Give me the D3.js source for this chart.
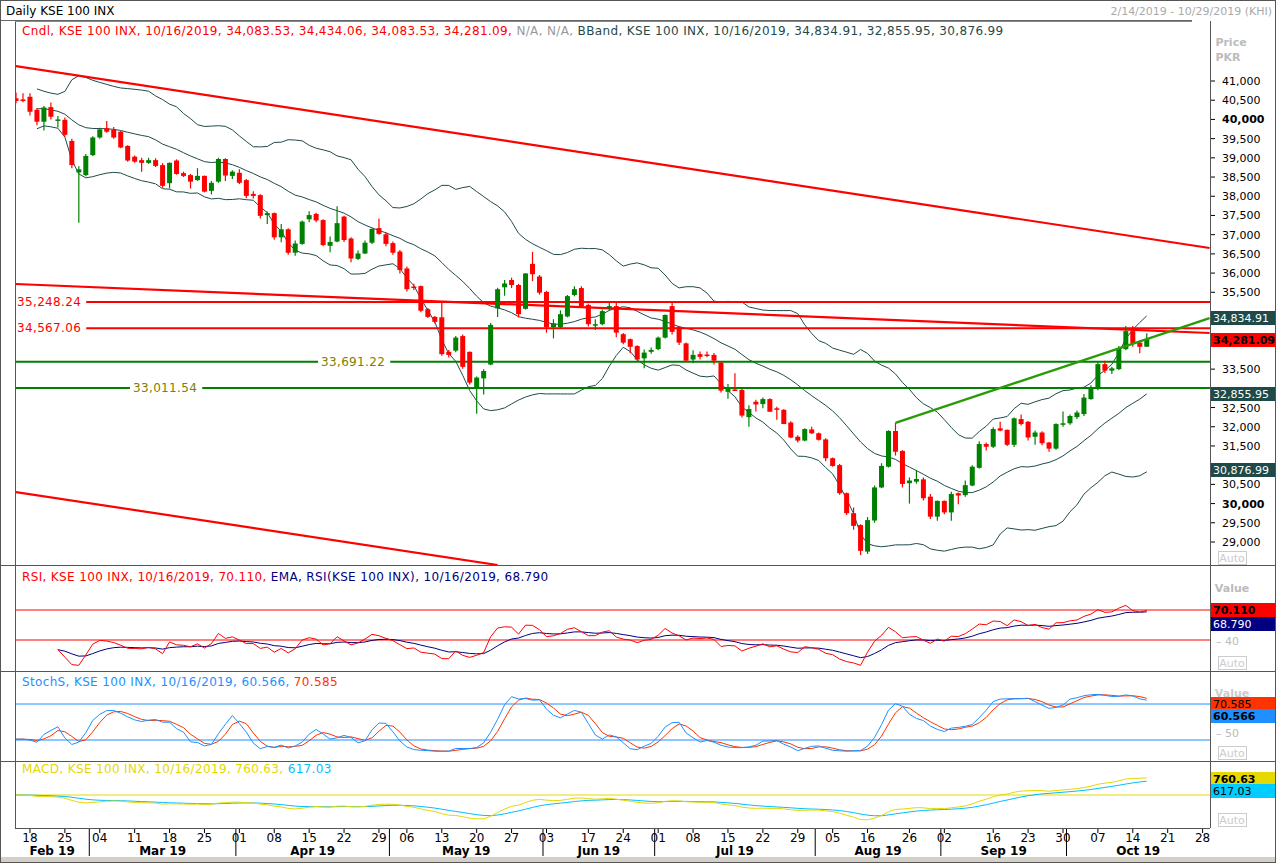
<!DOCTYPE html>
<html><head><meta charset="utf-8">
<script src="https://cdn.jsdelivr.net/npm/d3@7"></script>
<style>
body{margin:0;background:#fff;}
text{font-family:"DejaVu Sans",Verdana,sans-serif;}
.lg{font-size:12px;letter-spacing:0.35px;}
</style></head>
<body><svg id="c" width="1276" height="863"></svg>
<script>
// daily candles, [open, high, low, close], first one is 2/14/2019
var candles = [
[40550,40700,40420,40480],[40520,40680,40450,40480],[40590,40680,40100,40200],[40250,40300,39850,39940],
[39940,40350,39710,40310],[40320,40440,40000,40070],[40000,40090,39790,40000],[39990,40050,39550,39600],
[39440,39500,38730,38810],[38620,38780,37310,38700],[38550,39100,38520,39050],[39070,39560,39050,39530],
[39530,39780,39500,39740],[39770,39960,39650,39680],[39730,39800,39500,39530],[39680,39700,39250,39270],
[39310,39330,38900,38930],[39030,39060,38870,38900],[38940,39000,38640,38870],[38870,39000,38840,38940],
[38940,38990,38760,38790],[38810,38860,38220,38270],[38340,38880,38200,38870],[38930,38960,38560,38580],
[38600,38640,38500,38530],[38550,38580,38200,38380],[38420,38730,38400,38530],[38530,38540,38100,38120],
[38140,38400,38050,38350],[38380,39000,38350,38970],[38970,38990,38400,38540],[38530,38680,38450,38640],
[38610,38700,38320,38350],[38420,38450,37950,38010],[38060,38130,37940,38010],[38030,38050,37420,37490],
[37510,37600,37280,37560],[37560,37580,36870,36930],[36930,37280,36800,37140],[37140,37170,36480,36530],
[36530,36850,36450,36770],[36760,37370,36740,37340],[37400,37610,37320,37510],[37540,37570,37320,37370],
[37380,37400,36700,36730],[36710,36950,36540,36810],[36820,37740,36800,37300],[37470,37490,36810,36860],
[36900,36930,36280,36380],[36370,36590,36340,36510],[36510,36850,36500,36790],[36790,37160,36760,37150],
[37170,37420,37000,37020],[37010,37060,36700,36760],[36780,36820,36480,36530],[36560,36600,35990,36080],
[36120,36170,35520,35580],[35650,35720,35560,35620],[35660,35680,34980,35020],[35060,35090,34830,34860],
[34860,34880,34690,34730],[34850,35260,33850,33890],[33950,34000,33800,33870],[33980,34360,33940,34320],
[34360,34400,33510,33560],[33950,33960,33100,33150],[33030,33310,32340,33280],[33260,33500,32840,33450],
[33620,34700,33600,34650],[35080,35620,34860,35580],[35630,35820,35410,35730],[35820,35880,35610,35690],
[35690,35720,34850,34930],[35070,36000,35050,35990],[36240,36550,35790,35970],[35910,35950,35440,35490],
[35510,35540,34450,34590],[34590,34800,34300,34690],[34590,35030,34570,34930],[34870,35430,34850,35400],
[35430,35660,35400,35580],[35610,35660,35090,35140],[35170,35200,34610,34670],[34660,34800,34520,34670],
[34670,35050,34640,35010],[35080,35230,35020,35140],[35140,35220,34330,34450],[34410,34440,34150,34190],
[34280,34300,33910,34080],[34100,34120,33720,33750],[33780,34010,33520,33930],[33950,34060,33900,34000],
[34020,34350,33990,34320],[34320,34920,34300,34910],[35140,35230,34400,34470],[34600,34620,34130,34190],
[34170,34190,33720,33720],[33750,33990,33650,33870],[33890,33960,33750,33820],[33880,33960,33810,33860],
[33870,33920,33620,33720],[33670,33690,32890,32940],[32910,33110,32730,33000],[32970,33390,32930,32960],
[32960,32980,32240,32290],[32250,32560,32000,32460],[32650,32700,32400,32580],[32590,32760,32480,32720],
[32720,32740,32390,32390],[32480,32520,32180,32450],[32440,32460,32070,32070],[32110,32140,31700,31720],
[31740,31780,31590,31640],[31640,31960,31620,31940],[31930,32000,31810,31830],[31830,31850,31640,31660],
[31670,31700,31100,31180],[31180,31200,30960,30980],[31000,31030,30230,30270],[30270,30290,29700,29750],
[29750,29900,29320,29420],[29440,29460,28660,28770],[28750,29650,28690,29570],[29560,30470,29500,30420],
[30420,31050,30400,30980],[30960,31910,30940,31890],[31890,32100,31250,31350],[31370,31390,30420,30510],
[30530,30680,30000,30600],[30570,30870,30520,30640],[30630,30680,30080,30140],[30180,30250,29600,29660],
[29660,30080,29550,30070],[30070,30080,29720,29770],[29770,30310,29550,30250],[30270,30290,29980,30210],
[30220,30600,30180,30480],[30470,31000,30450,30960],[30930,31620,30910,31550],[31550,31590,31380,31480],
[31480,31990,31450,31940],[31960,32130,31880,31900],[31920,31930,31500,31530],[31530,32240,31470,32220],
[32200,32320,32030,32070],[32130,32150,31640,31720],[31740,31900,31530,31850],[31850,31880,31520,31570],
[31590,31600,31350,31430],[31430,32090,31400,32070],[32060,32400,32000,32090],[32090,32320,32050,32280],
[32250,32420,32200,32370],[32330,32850,32280,32760],[32720,33080,32700,33030],[33010,33700,32950,33630],
[33630,33720,33400,33460],[33460,33560,33370,33520],[33500,34100,33480,34040],[34020,34620,33990,34490],
[34490,34620,34080,34170],[34190,34240,33910,34080],[34083.53,34434.06,34083.53,34281.09]
];

// exchange holidays inside the range (weekdays with no session)
var holidays = ["2019-05-01","2019-06-04","2019-06-05","2019-06-06","2019-06-07",
  "2019-08-12","2019-08-13","2019-08-14","2019-08-15","2019-09-06","2019-09-09","2019-09-10"];
var tickDates = ["2019-02-18","2019-02-25","2019-03-04","2019-03-11","2019-03-18","2019-03-25","2019-04-01",
  "2019-04-08","2019-04-15","2019-04-22","2019-04-29","2019-05-06","2019-05-13","2019-05-20","2019-05-27",
  "2019-06-03","2019-06-17","2019-06-24","2019-07-01","2019-07-08","2019-07-15","2019-07-22","2019-07-29",
  "2019-08-05","2019-08-16","2019-08-26","2019-09-02","2019-09-16","2019-09-23","2019-09-30","2019-10-07",
  "2019-10-14","2019-10-21","2019-10-28"];
var monthNames = ["Feb 19","Mar 19","Apr 19","May 19","Jun 19","Jul 19","Aug 19","Sep 19","Oct 19"];

// manually drawn studies: [index, price]
var upperChannel = [[-0.1,41390],[171,36653]];
var midChannel = [[-0.1,35716],[171,34440]];
var lowerChannel = [[-0.1,30302],[69,28401]];
var greenTrend = [[126,32098],[171,34830]];
var redLevels = [35248.24, 34567.06];
var greenLevels = [33691.22, 33011.54];
var priceTicks = d3.range(29000, 41001, 500);

// ---- trading calendar
var fmt = d3.timeFormat("%Y-%m-%d");
var days = d3.timeDay.range(new Date(2019,1,14), new Date(2019,10,1))
  .filter(function(d){ return d.getDay()>0 && d.getDay()<6 && holidays.indexOf(fmt(d))<0; });
var dayIndex = {};
days.forEach(function(d,i){ dayIndex[fmt(d)] = i; });

var svg = d3.select("#c");
var L = 15, R = 1210, step = 6.98;
var x = d3.scaleLinear().domain([0, 1]).range([16, 16+step]);

var panels = {
  main: {top:21, bottom:565},
  rsi: {top:567, bottom:670},
  sto: {top:672, bottom:760},
  macd: {top:762, bottom:828}
};

// frame
svg.append("rect").attr("x",0).attr("y",0).attr("width",1276).attr("height",863).attr("fill","#fff");
svg.append("rect").attr("x",0.5).attr("y",0.5).attr("width",1275).attr("height",862).attr("fill","none").attr("stroke","#555");
svg.append("rect").attr("x",1).attr("y",857).attr("width",1274).attr("height",5).attr("fill","#d4d0c8");
svg.append("text").attr("x",6).attr("y",15).attr("font-size",12).attr("fill","#000").text("Daily KSE 100 INX");
svg.append("text").attr("x",1272).attr("y",15).attr("font-size",11).attr("fill","#aaa").attr("text-anchor","end")
  .text("2/14/2019 - 10/29/2019 (KHI)");
svg.append("line").attr("x1",1).attr("x2",1192).attr("y1",20.5).attr("y2",20.5).attr("stroke","#666");
svg.append("line").attr("x1",L+0.5).attr("x2",L+0.5).attr("y1",21).attr("y2",828).attr("stroke","#555");
svg.append("line").attr("x1",R+0.5).attr("x2",R+0.5).attr("y1",21).attr("y2",828).attr("stroke","#555");
[565.5,671.5,761.5].forEach(function(yy){
  svg.append("line").attr("x1",1).attr("x2",1275).attr("y1",yy).attr("y2",yy).attr("stroke","#555");
});
svg.append("line").attr("x1",L).attr("x2",R).attr("y1",828.5).attr("y2",828.5).attr("stroke","#555");

Object.keys(panels).forEach(function(k){
  svg.append("clipPath").attr("id","clip-"+k).append("rect")
    .attr("x",L+1).attr("y",panels[k].top).attr("width",R-L-1).attr("height",panels[k].bottom-panels[k].top);
});

// ---- main panel
var y = d3.scaleLinear().domain([29000,41000]).range([542,81]);
var gm = svg.append("g").attr("clip-path","url(#clip-main)");
var closes = candles.map(function(c){ return c[3]; });

// bollinger 20,2
var bb = closes.map(function(c,i){
  var w = closes.slice(Math.max(0,i-19), i+1), m = d3.mean(w), s = d3.deviation(w) || 0;
  return {i:i, m:m, u:m+2*s, l:m-2*s};
});
["u","m","l"].forEach(function(k){
  gm.append("path").datum(bb.slice(3)).attr("fill","none").attr("stroke","#1f4a4a").attr("stroke-width",1)
    .attr("d", d3.line().x(function(d){return x(d.i);}).y(function(d){return y(d[k]);}));
});

function seg(p, col, w){
  gm.append("line").attr("x1",x(p[0][0])).attr("y1",y(p[0][1])).attr("x2",x(p[1][0])).attr("y2",y(p[1][1]))
    .attr("stroke",col).attr("stroke-width",w);
}
seg(upperChannel,"#ff0000",2.2); seg(midChannel,"#ff0000",2.2); seg(lowerChannel,"#ff0000",2.2);

redLevels.forEach(function(v){
  gm.append("line").attr("x1",L).attr("x2",R).attr("y1",y(v)).attr("y2",y(v)).attr("stroke","#ff0000").attr("stroke-width",2);
});
greenLevels.forEach(function(v){
  gm.append("line").attr("x1",L).attr("x2",R).attr("y1",y(v)).attr("y2",y(v)).attr("stroke","#008000").attr("stroke-width",2);
});
var fmtP = d3.format(",.2f");
[[redLevels[0],16,"#ff0000"],[redLevels[1],16,"#ff0000"],[greenLevels[0],320,"#808000"],[greenLevels[1],132,"#808000"]]
.forEach(function(a){
  var t = gm.append("text").attr("class","lg").attr("x",a[1]+1).attr("y",y(a[0])+4).attr("fill",a[2]).text(fmtP(a[0]));
  var bw = t.node().getComputedTextLength();
  gm.insert("rect","text").attr("x",a[1]-2).attr("y",y(a[0])-6).attr("width",bw+8).attr("height",12).attr("fill","#fff");
});

var cw = 5;
var cg = gm.selectAll("g.c").data(candles).enter().append("g");
cg.append("line").attr("x1",function(d,i){return x(i);}).attr("x2",function(d,i){return x(i);})
  .attr("y1",function(d){return y(d[1]);}).attr("y2",function(d){return y(d[2]);})
  .attr("stroke",function(d){return d[3]>=d[0]?"#008000":"#ff0000";}).attr("stroke-width",1.2);
cg.append("rect").attr("x",function(d,i){return x(i)-cw/2;}).attr("width",cw)
  .attr("y",function(d){return y(Math.max(d[0],d[3]));})
  .attr("height",function(d){return Math.max(1.5, Math.abs(y(d[0])-y(d[3])));})
  .attr("fill",function(d){return d[3]>=d[0]?"#008000":"#ff0000";});
seg(greenTrend,"#2a9a0a",2.4);

// legend
var lg = svg.append("text").attr("class","lg").attr("x",22).attr("y",35);
lg.append("tspan").attr("fill","#ff0000").text("Cndl, KSE 100 INX, 10/16/2019, 34,083.53, 34,434.06, 34,083.53, 34,281.09, ");
lg.append("tspan").attr("fill","#999").text("N/A, N/A, ");
lg.append("tspan").attr("fill","#1f4a4a").text("BBand, KSE 100 INX, 10/16/2019, 34,834.91, 32,855.95, 30,876.99");
svg.append("line").attr("x1",L).attr("x2",1192).attr("y1",21.5).attr("y2",21.5).attr("stroke","#888");

// price axis
var boxYs = [318,340,394,470];
var ya = svg.append("g");
priceTicks.forEach(function(v){
  if (boxYs.some(function(b){ return Math.abs(b-y(v))<12; })) return;
  ya.append("line").attr("x1",R+1).attr("x2",R+5).attr("y1",y(v)).attr("y2",y(v)).attr("stroke","#000");
  ya.append("text").attr("x",R+12).attr("y",y(v)+4).attr("font-size",11).attr("fill","#000")
    .attr("font-weight", v%10000===0 ? "bold" : "normal").text(d3.format(",")(v));
});
ya.append("text").attr("x",1231).attr("y",46).attr("font-size",11).attr("font-weight","bold").attr("fill","#bbb").attr("text-anchor","middle").text("Price");
ya.append("text").attr("x",1228).attr("y",61).attr("font-size",11).attr("font-weight","bold").attr("fill","#bbb").attr("text-anchor","middle").text("PKR");
function valBox(yy, txt, bg, fg, bold){
  svg.append("rect").attr("x",R+1).attr("y",yy-7).attr("width",64).attr("height",14).attr("fill",bg);
  svg.append("text").attr("x",R+3).attr("y",yy+4).attr("font-size",11).attr("fill",fg)
    .attr("font-weight",bold?"bold":"normal").text(txt);
}
valBox(318,"34,834.91","#1f4a4a","#fff");
valBox(340,"34,281.09","#ff0000","#000",true);
valBox(394,"32,855.95","#1f4a4a","#fff");
valBox(470,"30,876.99","#1f4a4a","#fff");
function autoBox(yy){
  svg.append("rect").attr("x",1218.5).attr("y",yy-0.5).attr("width",28).attr("height",13).attr("fill","#fff").attr("stroke","#ccc");
  svg.append("text").attr("x",1232).attr("y",yy+10).attr("font-size",11).attr("fill","#ccc").attr("text-anchor","middle").text("Auto");
}
autoBox(552); autoBox(657); autoBox(747); autoBox(814);

// ---- RSI 14 and EMA 9 of RSI
var rsi = [], ag = 0, al = 0;
closes.forEach(function(c,i){
  if (i===0) { rsi.push(null); return; }
  var ch = c - closes[i-1], g = Math.max(ch,0), lo = Math.max(-ch,0);
  var n = Math.min(i,14);
  ag = (ag*(n-1)+g)/n; al = (al*(n-1)+lo)/n;
  rsi.push(i<6 ? null : (al===0 ? 100 : 100 - 100/(1+ag/al)));
});
function ema(arr, n){
  var k = 2/(n+1), out = [], prev = null;
  arr.forEach(function(v){ if (v==null){out.push(null);return;} prev = prev==null ? v : prev + k*(v-prev); out.push(prev); });
  return out;
}
var rsiE = ema(rsi, 9);
var yr = d3.scaleLinear().domain([40,70]).range([640,610]);
var gr = svg.append("g").attr("clip-path","url(#clip-rsi)");
[70,40].forEach(function(v){ gr.append("line").attr("x1",L).attr("x2",R).attr("y1",yr(v)).attr("y2",yr(v)).attr("stroke","#ff0000"); });
function linePath(g, arr, sc, col){
  g.append("path").datum(arr.map(function(v,i){return [i,v];}).filter(function(d){return d[1]!=null;}))
    .attr("fill","none").attr("stroke",col).attr("stroke-width",1)
    .attr("d", d3.line().x(function(d){return x(d[0]);}).y(function(d){return sc(d[1]);}));
}
linePath(gr, rsiE, yr, "#000080");
linePath(gr, rsi, yr, "#ff0000");
var lr = svg.append("text").attr("class","lg").attr("x",22).attr("y",581);
lr.append("tspan").attr("fill","#ff0000").text("RSI, KSE 100 INX, 10/16/2019, 70.110, ");
lr.append("tspan").attr("fill","#000080").text("EMA, RSI(KSE 100 INX), 10/16/2019, 68.790");
svg.append("text").attr("x",1232).attr("y",592).attr("font-size",11).attr("font-weight","bold").attr("fill","#bbb").attr("text-anchor","middle").text("Value");
svg.append("text").attr("x",R+6).attr("y",645).attr("font-size",11).attr("fill","#bbb").text("\u2013 40");
valBox(610,"70.110","#ff0000","#000",true);
valBox(624,"68.790","#000080","#fff");

// ---- Slow stochastic 14,3,3
var fastK = candles.map(function(c,i){
  var w = candles.slice(Math.max(0,i-13), i+1);
  var hh = d3.max(w,function(d){return d[1];}), ll = d3.min(w,function(d){return d[2];});
  return hh===ll ? 50 : 100*(c[3]-ll)/(hh-ll);
});
function sma(arr,n){ return arr.map(function(v,i){ return d3.mean(arr.slice(Math.max(0,i-n+1), i+1)); }); }
var slowK = sma(fastK,3), slowD = sma(slowK,3);
var ys = d3.scaleLinear().domain([20,80]).range([740,704]);
var gs = svg.append("g").attr("clip-path","url(#clip-sto)");
[80,20].forEach(function(v){ gs.append("line").attr("x1",L).attr("x2",R).attr("y1",ys(v)).attr("y2",ys(v)).attr("stroke","#1e90ff"); });
linePath(gs, slowD, ys, "#ff3300");
linePath(gs, slowK, ys, "#1e90ff");
var ls = svg.append("text").attr("class","lg").attr("x",22).attr("y",686);
ls.append("tspan").attr("fill","#1e90ff").text("StochS, KSE 100 INX, 10/16/2019, 60.566, ");
ls.append("tspan").attr("fill","#ff3300").text("70.585");
svg.append("text").attr("x",1232).attr("y",697).attr("font-size",11).attr("font-weight","bold").attr("fill","#ccc").attr("text-anchor","middle").text("Value");
svg.append("text").attr("x",R+6).attr("y",737).attr("font-size",11).attr("fill","#bbb").text("\u2013 50");
valBox(704,"70.585","#ff3300","#000");
valBox(716,"60.566","#1e90ff","#000",true);

// ---- MACD 12,26,9
var e12 = ema(closes,12), e26 = ema(closes,26);
var macd = closes.map(function(c,i){ return e12[i]-e26[i]; });
var sig = ema(macd, 9);
var ymc = d3.scaleLinear().domain([-1000,1000]).range([817.4,772.6]);
var gc = svg.append("g").attr("clip-path","url(#clip-macd)");
gc.append("line").attr("x1",L).attr("x2",R).attr("y1",ymc(0)).attr("y2",ymc(0)).attr("stroke","#e6d800");
linePath(gc, sig, ymc, "#00bfff");
linePath(gc, macd, ymc, "#e6d800");
var lm = svg.append("text").attr("class","lg").attr("x",22).attr("y",773);
lm.append("tspan").attr("fill","#e6d800").text("MACD, KSE 100 INX, 10/16/2019, 760.63, ");
lm.append("tspan").attr("fill","#00bfff").text("617.03");
valBox(779,"760.63","#e6d800","#000",true);
valBox(791,"617.03","#00ccff","#000");

// ---- time axis
var tf = d3.timeFormat("%d");
var xa = svg.append("g");
tickDates.forEach(function(s){
  var i = dayIndex[s], d = days[i];
  xa.append("line").attr("x1",x(i)).attr("x2",x(i)).attr("y1",829).attr("y2",833).attr("stroke","#000");
  xa.append("text").attr("x",x(i)).attr("y",842).attr("font-size",12).attr("text-anchor","middle").text(tf(d));
});
monthNames.forEach(function(m, k){
  var idx = days.map(function(d,i){return d.getMonth()===k+1 ? i : -1;}).filter(function(i){return i>=0;});
  var a = idx[0], b = Math.min(idx[idx.length-1], 171);
  if (k>0) xa.append("line").attr("x1",x(a-0.5)).attr("x2",x(a-0.5)).attr("y1",829).attr("y2",856).attr("stroke","#000");
  xa.append("text").attr("x",(Math.max(x(a-0.5),L)+Math.min(x(b+0.5),R))/2).attr("y",855).attr("font-size",12)
    .attr("font-weight","bold").attr("text-anchor","middle").text(m);
});
</script></body></html>
